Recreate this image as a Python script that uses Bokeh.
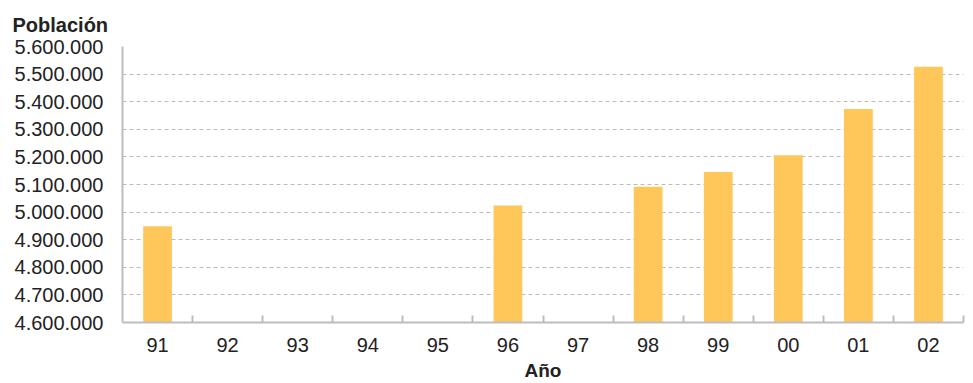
from bokeh.plotting import figure
from bokeh.models import Range1d, FixedTicker, ColumnDataSource
from bokeh.embed import file_html
from bokeh.resources import INLINE

# Population by year (years without a figure have no bar)
years = ["91", "92", "93", "94", "95", "96", "97", "98", "99", "00", "01", "02"]
population = [4949000, None, None, None, None, 5024000, None, 5092000, 5145000, 5206000, 5374000, 5527000]

y_ticks = [4600000, 4700000, 4800000, 4900000, 5000000, 5100000,
           5200000, 5300000, 5400000, 5500000, 5600000]
y_tick_labels = ["4.600.000", "4.700.000", "4.800.000", "4.900.000", "5.000.000", "5.100.000",
                 "5.200.000", "5.300.000", "5.400.000", "5.500.000", "5.600.000"]

y_min, y_max = 4600000, 5600000

FONT = "Liberation Sans"
TEXT = "#222222"
AXIS = "#bdbdbd"
BAR = "#ffc759"

xs = [i + 0.5 for i, v in enumerate(population) if v is not None]
tops = [v for v in population if v is not None]
src = ColumnDataSource(dict(x=xs, top=tops))

p = figure(width=973, height=383, output_backend="svg", toolbar_location=None,
           x_range=Range1d(0, len(years)), y_range=Range1d(y_min, y_max),
           min_border_left=122, min_border_right=10, min_border_top=46,
           min_border_bottom=57)
p.outline_line_color = None
p.background_fill_color = "white"

p.vbar(x="x", top="top", bottom=y_min, width=0.41, source=src,
       fill_color=BAR, line_color=None)

# Value-axis heading, drawn as the plot title at the top-left corner
p.title.text = "Población"
p.title.align = "left"
p.title.text_font = FONT
p.title.text_font_size = "20px"
p.title.text_font_style = "bold"
p.title.text_color = TEXT
p.title.offset = -110
p.title.standoff = 22

# X axis: labels at category centres, small inward ticks at category boundaries
xa = p.xaxis[0]
xa.ticker = FixedTicker(ticks=[i + 0.5 for i in range(len(years))],
                        minor_ticks=list(range(1, len(years) + 1)))
xa.major_label_overrides = {i + 0.5: y for i, y in enumerate(years)}
xa.major_tick_line_color = None
xa.minor_tick_line_color = AXIS
xa.minor_tick_line_width = 2
xa.minor_tick_in = 7
xa.minor_tick_out = 0
xa.axis_line_color = AXIS
xa.axis_line_width = 2
xa.major_label_text_font = FONT
xa.major_label_text_font_size = "20px"
xa.major_label_text_color = TEXT
xa.major_label_standoff = 9
xa.axis_label = "Año"
xa.axis_label_text_font = FONT
xa.axis_label_text_font_size = "19px"
xa.axis_label_text_font_style = "bold"
xa.axis_label_text_color = TEXT
xa.axis_label_standoff = 5

# Y axis
ya = p.yaxis[0]
ya.ticker = FixedTicker(ticks=y_ticks)
ya.major_label_overrides = {t: l for t, l in zip(y_ticks, y_tick_labels)}
ya.major_tick_line_color = None
ya.minor_tick_line_color = None
ya.axis_line_color = AXIS
ya.axis_line_width = 2
ya.major_label_text_font = FONT
ya.major_label_text_font_size = "20px"
ya.major_label_text_color = TEXT
ya.major_label_standoff = 13

# Grid
p.xgrid.grid_line_color = None
p.ygrid.grid_line_color = "#bbbbbb"
p.ygrid.grid_line_dash = "4 3"
p.ygrid.grid_line_width = 1

open("out.html", "w").write(file_html(p, INLINE))
